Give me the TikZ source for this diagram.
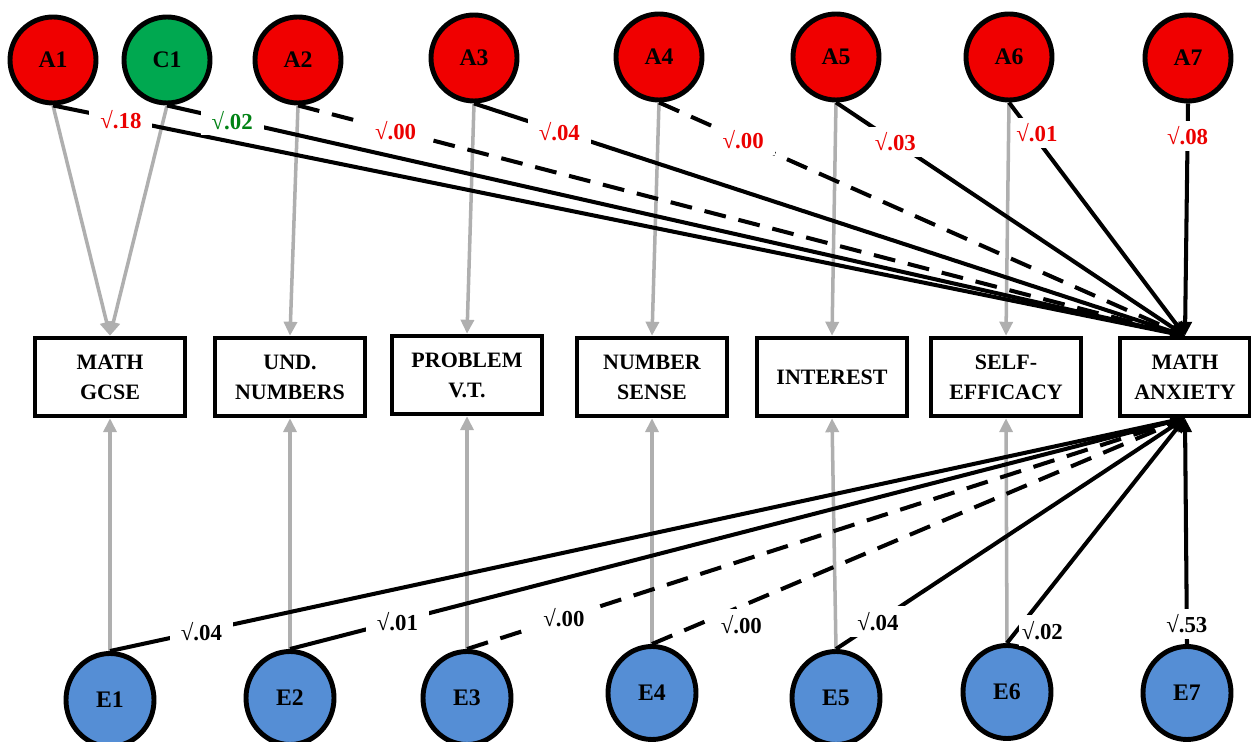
\documentclass[tikz,border=0pt]{standalone}
\usepackage{fontspec}
\setmainfont{Liberation Serif}
\usetikzlibrary{shapes.geometric, arrows.meta, positioning}
\definecolor{circred}{RGB}{240, 0, 0}
\definecolor{circgreen}{RGB}{0, 168, 80}
\definecolor{circblue}{RGB}{85, 142, 213}
\definecolor{lblred}{RGB}{235, 0, 0}
\definecolor{lblgreen}{RGB}{0, 130, 20}
\definecolor{pathgray}{RGB}{175, 175, 175}

\begin{document}
\begin{tikzpicture}[x=0.2mm, y=-0.2mm,
    latent/.style={circle, draw=black, line width=2.8pt, minimum size=17.2mm, inner sep=0pt, font=\fontsize{13.5}{15}\selectfont\bfseries},
    errvar/.style={ellipse, draw=black, fill=circblue, line width=2.8pt, minimum width=17.6mm, minimum height=18.6mm, inner sep=0pt, font=\fontsize{13.5}{15}\selectfont\bfseries},
    measure/.style={rectangle, draw=black, line width=2.5pt, minimum width=30mm, minimum height=15.6mm, align=center, font=\fontsize{12.5}{17}\selectfont\bfseries},
    load/.style={draw=pathgray, line width=2pt, -{Triangle[length=2.8mm, width=2.6mm]}},
    effect/.style={draw=black, line width=2.3pt, -{Triangle[length=2.8mm, width=2.6mm]}},
    nulleffect/.style={effect, dash pattern=on 4.4mm off 2.6mm},
    coef/.style={fill=white, inner xsep=2.2mm, inner ysep=1.2mm, font=\fontsize{13}{15}\selectfont\bfseries}
]
    \useasboundingbox (0,0) rectangle (1251,742);

    % latente Faktoren oben
    \node[latent, fill=circred]   (A1) at (53,60)   {A1};
    \node[latent, fill=circgreen] (C1) at (167,60)  {C1};
    \node[latent, fill=circred]   (A2) at (298,60)  {A2};
    \node[latent, fill=circred]   (A3) at (474,58)  {A3};
    \node[latent, fill=circred]   (A4) at (659,57)  {A4};
    \node[latent, fill=circred]   (A5) at (836,57)  {A5};
    \node[latent, fill=circred]   (A6) at (1009,57) {A6};
    \node[latent, fill=circred]   (A7) at (1188,58) {A7};

    % Messgroessen
    \node[measure] (gcse)  at (110,377)  {MATH\\GCSE};
    \node[measure] (und)   at (290,377)  {UND.\\NUMBERS};
    \node[measure] (prob)  at (467,375)  {PROBLEM\\V.T.};
    \node[measure] (nsense) at (652,377) {NUMBER\\SENSE};
    \node[measure] (inter) at (832,377)  {INTEREST};
    \node[measure] (self)  at (1006,377) {SELF-\\EFFICACY};
    \node[measure, minimum width=26mm] (anx) at (1185,377) {MATH\\ANXIETY};

    % Fehlerterme unten
    \node[errvar] (E1) at (110,700)  {E1};
    \node[errvar] (E2) at (290,698)  {E2};
    \node[errvar] (E3) at (467,698)  {E3};
    \node[errvar] (E4) at (652,693)  {E4};
    \node[errvar] (E5) at (836,698)  {E5};
    \node[errvar] (E6) at (1007,692) {E6};
    \node[errvar] (E7) at (1187,693) {E7};

    % Ladungen (grau)
    \draw[load] (A1.south) -- (gcse.north);
    \draw[load] (C1.south) -- (gcse.north);
    \draw[load] (A2.south) -- (und.north);
    \draw[load] (A3.south) -- (prob.north);
    \draw[load] (A4.south) -- (nsense.north);
    \draw[load] (A5.south) -- (inter.north);
    \draw[load] (A6.south) -- (self.north);

    \draw[load] (E1.north) -- (gcse.south);
    \draw[load] (E2.north) -- (und.south);
    \draw[load] (E3.north) -- (prob.south);
    \draw[load] (E4.north) -- (nsense.south);
    \draw[load] (E5.north) -- (inter.south);
    \draw[load] (E6.north) -- (self.south);

    % Pfade zur Mathe-Angst (oben)
    \draw[effect]     (A1.south) -- node[coef, text=lblred, pos=0.06] {√.18} (anx.north);
    \draw[effect]     (C1.south) -- node[coef, text=lblgreen, pos=0.064] {√.02} (anx.north);
    \draw[nulleffect] (A2.south) -- node[coef, text=lblred, pos=0.11] {√.00} (anx.north);
    \draw[effect]     (A3.south) -- node[coef, text=lblred, pos=0.12] {√.04} (anx.north);
    \draw[nulleffect] (A4.south) -- node[coef, text=lblred, pos=0.16] {√.00} (anx.north);
    \draw[effect]     (A5.south) -- node[coef, text=lblred, pos=0.17] {√.03} (anx.north);
    \draw[effect]     (A6.south) -- node[coef, text=lblred, inner xsep=1.5pt, pos=0.13, xshift=1mm] {√.01} (anx.north);
    \draw[effect]     (A7.south) -- node[coef, text=lblred, pos=0.14] {√.08} (anx.north);

    % Pfade zur Mathe-Angst (unten)
    \draw[effect]     (E1.north) -- node[coef, pos=0.085] {√.04} (anx.south);
    \draw[effect]     (E2.north) -- node[coef, pos=0.12] {√.01} (anx.south);
    \draw[nulleffect] (E3.north) -- node[coef, pos=0.135] {√.00} (anx.south);
    \draw[nulleffect] (E4.north) -- node[coef, pos=0.13, xshift=4mm, yshift=-2mm] {√.00} (anx.south);
    \draw[effect]     (E5.north) -- node[coef, pos=0.12] {√.04} (anx.south);
    \draw[effect]     (E6.north) -- node[coef, inner xsep=1.5pt, pos=0.1, xshift=3.5mm, yshift=-2mm] {√.02} (anx.south);
    \draw[effect]     (E7.north) -- node[coef, pos=0.09] {√.53} (anx.south);
\end{tikzpicture}
\end{document}
